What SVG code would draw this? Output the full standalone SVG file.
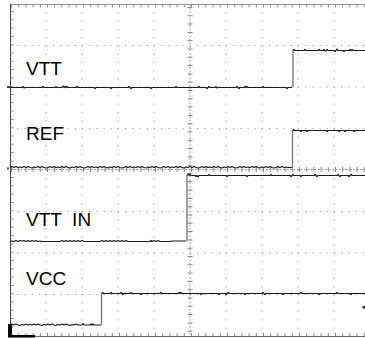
<svg xmlns="http://www.w3.org/2000/svg" width="365" height="338" viewBox="0 0 365 338">
<style>
.grid{stroke:#8a8a8a;stroke-width:1;fill:none}
.gh{stroke-dasharray:1 6.2}
.gv{stroke-dasharray:1 7.3}
.axis{stroke:#9a9a9a;stroke-width:1;stroke-dasharray:2 1.5;fill:none}
.tick{stroke:#8a8a8a;fill:none}
.tr{stroke:#1a1a1a;stroke-width:1.2;fill:none;stroke-linejoin:round}
.edge{stroke:#7a7a7a;stroke-width:1.4;fill:none}
.lbl{font-family:"Liberation Sans",Arial,sans-serif;font-size:19px;fill:#000}
</style>
<rect width="365" height="338" fill="#fff"/>
<g id="grid">
  <g class="grid gh">
    <line x1="10" y1="45.5" x2="365" y2="45.5"/>
    <line x1="10" y1="87" x2="365" y2="87"/>
    <line x1="10" y1="128.5" x2="365" y2="128.5"/>
    <line x1="10" y1="211.5" x2="365" y2="211.5"/>
    <line x1="10" y1="253" x2="365" y2="253"/>
    <line x1="10" y1="294.5" x2="365" y2="294.5"/>
  </g>
  <g class="grid gv">
    <line x1="46" y1="4" x2="46" y2="336"/>
    <line x1="82" y1="4" x2="82" y2="336"/>
    <line x1="118" y1="4" x2="118" y2="336"/>
    <line x1="154" y1="4" x2="154" y2="336"/>
    <line x1="226" y1="4" x2="226" y2="336"/>
    <line x1="262" y1="4" x2="262" y2="336"/>
    <line x1="298" y1="4" x2="298" y2="336"/>
    <line x1="334" y1="4" x2="334" y2="336"/>
  </g>
  <line class="axis" x1="190" y1="4" x2="190" y2="336"/>
  <line class="axis" x1="10" y1="169.5" x2="365" y2="169.5"/>
  <line class="tick" x1="190" y1="4" x2="190" y2="336" stroke-width="5" stroke-dasharray="1 7.3" stroke-dashoffset="-3"/>
  <line class="tick" x1="10" y1="169.5" x2="365" y2="169.5" stroke-width="5" stroke-dasharray="1 6.2" stroke-dashoffset="-1"/>
  <line x1="10" y1="4.5" x2="365" y2="4.5" stroke="#9a9a9a" stroke-width="1"/>
  <line class="tick" x1="10" y1="6" x2="365" y2="6" stroke-width="3" stroke-dasharray="1 6.2" stroke-dashoffset="-1"/>
  <line x1="10" y1="336.5" x2="365" y2="336.5" stroke="#6a6a6a" stroke-width="1.2"/>
  <line class="tick" x1="10" y1="334.5" x2="365" y2="334.5" stroke-width="3" stroke-dasharray="1 6.2" stroke-dashoffset="-1"/>
  <line x1="10.5" y1="4" x2="10.5" y2="336" stroke="#444" stroke-width="1"/>
  <line class="tick" x1="12" y1="4" x2="12" y2="336" stroke-width="3" stroke-dasharray="1 7.3" stroke-dashoffset="-7"/>
</g>
<g id="markers">
  <rect x="8" y="324" width="4" height="12" fill="#000"/>
  <rect x="8" y="335" width="27" height="2.5" fill="#000"/>
  <line x1="7" y1="87" x2="10" y2="87" stroke="#000" stroke-width="1.5"/>
  <rect x="7" y="167.5" width="2" height="2" fill="#555"/>
  <rect x="362.5" y="306" width="2.5" height="2.5" fill="#333"/>
</g>
<g id="trace-vtt">
  <path class="tr" d="M10,87.5 H22 l1,-1 l1,1.5 l1,-0.5 H42 l1,-1 l1,1 H55 l1,-1 l1,1 H62 l1,-1.5 l1,1.5 l1,-1 l1,1 l1,-1 l1,1 H76 l1,-1 l1,1 H94 l1,1 l1,-1 H110 l1,1 l1,-1 H128 l1,-1 l1,1 l1,1 l1,-1 H150 l1,1 l1,-1 H175 l1,-1 l1,1 H198 l1,-1 l1,1 H206 l1,1 l1,-1 l1,-1 l1,1 H215 l1,-1 l1,1.5 l1,-0.5 H236 l1,-1 l1,1 l1,1 l1,-1 H244 l1,-1 l1,1 l1,-1 l1,1 H262 l1,-1 l1,1 H286 l1,1 l1,-1 H292"/>
  <line class="edge" x1="293" y1="87.5" x2="293" y2="50.5"/>
  <path class="tr" d="M293,50.5 l1,-1 l1,1 H304 l1,-1 l1,1 H318 l1,-1 l1,1 H323 l1,-1 l1,1.5 l1,-0.5 l1,-1 l1,1 H334 l1,1 l1,-1 l1,-1.5 l1,1.5 H343 l1,1 l1,-1 H349 l1,-1 l1,1 l1,-1 l1,1 H365"/>
</g>
<g id="trace-ref">
  <path class="tr" d="M10,167.5 l2,-1 l2,1 l2,-1 l2,1 l2,-0.5 l2,0.5 l2,-1 l2,1 l2,-1 l2,1 l2,0.5 l2,-1 l2,0.5 l2,-1 l2,1 l2,-1 l2,1 l2,0.5 l2,-0.5 l2,-1 l2,1 l2,-1 l2,1 l2,-0.5 l2,0.5 l2,-1 l2,1 l2,-1 l2,1 l2,0.5 l2,-1 l2,0.5 l2,-1 l2,1 l2,-1 l2,1 l2,0.5 l2,-0.5 l2,-1 l2,1 l2,-1 l2,1 l2,-0.5 l2,0.5 l2,-1 l2,1 l2,-1 l2,1 l2,0.5 l2,-1 l2,0.5 l2,-1 l2,1 l2,-1 l2,1 l2,0.5 l2,-0.5 l2,-1 l2,1 l2,-1 l2,1 l2,-0.5 l2,0.5 l2,-1 l2,1 l2,-1 l2,1 l2,0.5 l2,-1 l2,0.5 l2,-1 l2,1 l2,-1 l2,1 l2,0.5 l2,-0.5 l2,-1 l2,1 l2,-1 l2,1 l2,-0.5 l2,0.5 l2,-1 l2,1 l2,-1 l2,1 l2,0.5 l2,-1 l2,0.5 l2,-1 l2,1 l2,-1 l2,1 l2,0.5 l2,-0.5 l2,-1 l2,1 l2,-1 l2,1 l2,-0.5 l2,0.5 l2,-1 l2,1 l2,-1 l2,1 l2,0.5 l2,-1 l2,0.5 l2,-1 l2,1 l2,-1 l2,1 l2,0.5 l2,-0.5 l2,-1 l2,1 l2,-1 l2,1 l2,-0.5 l2,0.5 l2,-1 l2,1 l2,-1 l2,1 l2,0.5 l2,-1 l2,0.5 l2,-1 l2,1 l2,-1 l2,1 l2,0.5 l2,-0.5 l2,-1 l2,1 l2,-1 l2,1 l2,-0.5 l2,0.5 H292"/>
  <line class="edge" x1="292.5" y1="167.5" x2="292.5" y2="130.5"/>
  <path class="tr" d="M292.5,130.5 l1,-1 l1,1 H300 l1,1 l1,-1 H306 l1,1 l1,-1 H326 l1,1 l1,-1 H338 l1,1 l1,-1 H344 l1,1 l1,-1 H353 l1,1 l1,-1 H365"/>
</g>
<g id="trace-vtt-in">
  <path class="tr" d="M10,241.5 l2,-0.5 l2,0.5 l2,-1 l2,1 l2,-1 l2,0.5 l2,-0.5 l2,1 l2,-1 l2,1 l2,-1 l2,1 l2,-1 l2,1 l2,-0.5 l2,0.5 H60 l2,-1 l2,1 l2,-1 l2,1 l2,-1 l2,1 l2,-1 l2,1 l2,-1 l2,1 l2,-1 l2,1 H100 l2,-1 l2,1 l2,-1 l2,1 l2,-1 l2,1 l2,-1 l2,1 l2,-1 l2,1 l2,-1 l2,1 l2,-1 l2,1 H150 l1,-1 l1,1 l2,-1 l2,1 l2,-1 l2,1 H170 l2,-0.5 H186"/>
  <line class="edge" x1="187" y1="241" x2="187" y2="175.5"/>
  <path class="tr" d="M187,175.5 l1,-1.5 l1,1.5 l1,-1 l1,1 H195 l1,1 l1,-1 l1,1.5 l1,-1.5 H208 l1,-1 l1,1 H226 l1,1 l1,-1 H246 l1,1 l1,-1 H270 l1,-1 l1,1 H290 l1,1 l1,-1 l1,-1 l1,1 H300 l1,1 l1,-1 H314 l1,-1 l1,1 l1,1 l1,-1 H337 l1,-1 l1,1 l1,1 l1,-1 H348 l1,1 l1,-1 l1,-1 l1,1 H365"/>
</g>
<g id="trace-vcc">
  <path class="tr" d="M10,325 l2,-1 l2,1 l2,-1 l2,1 l2,0.5 l2,-1 l2,0.5 l2,-1 l2,1 l2,-0.5 l2,0.5 l2,-1 l2,1 l2,-1 l2,1 l2,0.5 l2,-1 l2,0.5 l2,-1 l2,1 l2,-1 l2,1 l2,0.5 l2,-1 l2,0.5 l2,-1 l2,1 l2,-1 l2,1 l2,0.5 l2,-1 l2,0.5 l2,-1 l2,1 H82 l1,-1.5 l1,1.5 H90 l1,-1 l1,1 l1,-1 l1,1 H101"/>
  <line class="edge" x1="101.5" y1="325" x2="101.5" y2="293.5"/>
  <path class="tr" d="M101.5,293.5 l1,-1 l1,1 H110 l1,-1 l1,1 H120 l1,-1 l1,1 l1,1 l1,-1 H130 l1,-1 l1,1 H140 l1,1 l1,-1 H160 l1,-1 l1,1 H178 l1,-1 l1,1 l1,-1 l1,1 H200 l1,1 l1,-1 H218 l1,1 l1,-1 H225 l1,1 l1,-1 l1,-1 l1,1 H244 l1,1 l1,-1 H262 l1,-1 l1,1 l1,1 l1,-1 H282 l1,1 l1,-1 H300 l1,-1 l1,1 H318 l1,1 l1,-1 H336 l1,-1 l1,1 H350 l1,1 l1,-1 H365"/>
</g>
<g id="labels">
  <text class="lbl" x="26" y="75">VTT</text>
  <text class="lbl" x="26" y="140">REF</text>
  <text class="lbl" x="26" y="226" xml:space="preserve">VTT  IN</text>
  <text class="lbl" x="26" y="285">VCC</text>
</g>
</svg>
